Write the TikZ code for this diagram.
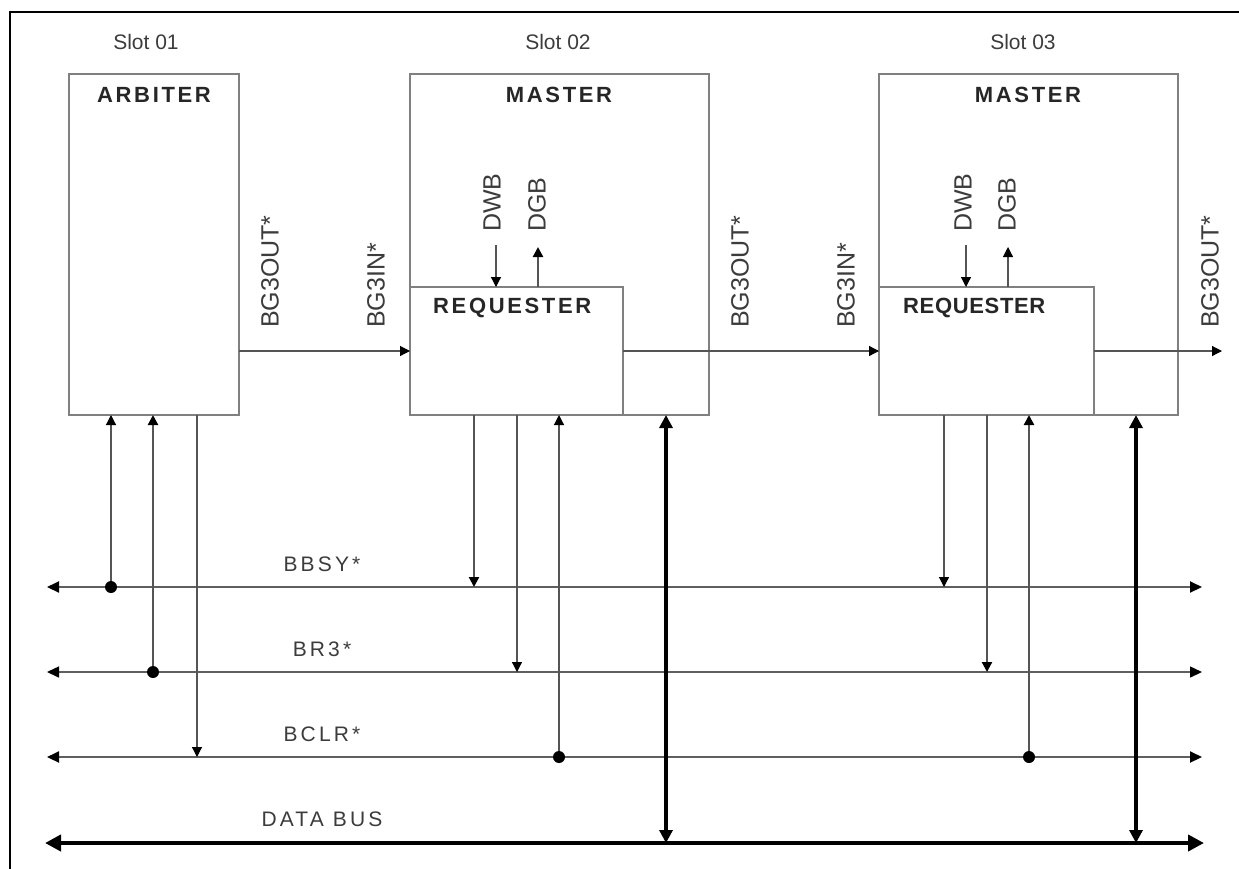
\documentclass[tikz,border=0pt]{standalone}
\usepackage{fontspec}
\setmainfont{Liberation Sans}
\newfontfamily\busfont[LetterSpace=15]{Liberation Sans}
\newfontfamily\titlefont[LetterSpace=12]{Liberation Sans}
\newfontfamily\reqfont[LetterSpace=3]{Liberation Sans}
\usetikzlibrary{arrows.meta}
\definecolor{boxgray}{RGB}{128,128,128}
\definecolor{sigcol}{RGB}{85,85,85}
\definecolor{buscol}{RGB}{95,95,95}
\definecolor{txtgray}{RGB}{60,60,60}
\tikzset{
  tipS/.tip={Triangle[length=10pt,width=10pt,color=black]},
  tipB/.tip={Triangle[length=12pt,width=11pt,color=black]},
  tipM/.tip={Triangle[length=13pt,width=13pt,color=black]},
  tipL/.tip={Triangle[length=16pt,width=16pt,color=black]},
  box/.style={draw=boxgray, line width=2pt, inner sep=0pt, outer sep=0pt, minimum height=341pt},
  reqbox/.style={draw=boxgray, line width=1.3pt, inner sep=0pt, outer sep=0pt, minimum height=128pt},
  sig/.style={draw=sigcol, line width=1.2pt},
  sigm/.style={draw=sigcol, line width=2.2pt},
  bus/.style={draw=buscol, line width=2pt},
  busthin/.style={draw=buscol, line width=1.5pt},
  dbus/.style={draw=black, line width=4.5pt},
  dot/.style={circle, fill=black, inner sep=0pt, minimum size=12pt},
  slotlbl/.style={font=\fontsize{21}{24}\selectfont, text=txtgray, inner sep=0pt},
  titlelbl/.style={font=\titlefont\bfseries\fontsize{22}{26}\selectfont, text=black!85, inner sep=0pt},
  rotlbl/.style={font=\fontsize{25}{28}\selectfont, text=txtgray, rotate=90, anchor=west, inner sep=0pt},
  buslbl/.style={font=\busfont\fontsize{21}{24}\selectfont, text=txtgray, inner sep=0pt},
}
\begin{document}
\begin{tikzpicture}[x=1pt,y=-1pt]
\useasboundingbox (0,0) rectangle (1239,868);
\fill[white] (0,0) rectangle (1239,868);
% outer frame (cut off at right and bottom)
\draw[line width=2.5pt, black] (10,880) -- (10,12) -- (1250,12);

% boxes
\node[box, minimum width=170pt] (arb) at (154,244.5) {};
\node[box, minimum width=299pt] (m2) at (559.5,244.5) {};
\node[box, minimum width=299pt] (m3) at (1028.5,244.5) {};
\node[reqbox, minimum width=213pt] (r2) at (516.5,351) {};
\node[reqbox, minimum width=215pt] (r3) at (986.5,351) {};

% slot labels and titles
\node[slotlbl] (s1) at (146,42) {Slot 01};
\node[slotlbl] (s2) at (558,42) {Slot 02};
\node[slotlbl] (s3) at (1023,42) {Slot 03};
\node[titlelbl] (ta) at (154,95) {ARBITER};
\node[titlelbl] (t2) at (559,95) {MASTER};
\node[titlelbl] (t3) at (1028,95) {MASTER};
\node[titlelbl, anchor=west] (tr2) at (433,308) {REQUESTER};
\node[font=\reqfont\bfseries\fontsize{22}{26}\selectfont, text=black!85, inner sep=0pt, anchor=west] (tr3) at (903,308) {REQUESTER};

% rotated labels
\node[rotlbl] (o1) at (270,328) {BG3OUT*};
\node[rotlbl] (i2) at (376,328) {BG3IN*};
\node[rotlbl] (o2) at (740,328) {BG3OUT*};
\node[rotlbl] (i3) at (846,328) {BG3IN*};
\node[rotlbl] (o3) at (1210,328) {BG3OUT*};
\node[rotlbl] (w2) at (492,232) {DWB};
\node[rotlbl] (g2) at (537,232) {DGB};
\node[rotlbl] (w3) at (963,232) {DWB};
\node[rotlbl] (g3) at (1007,232) {DGB};

% DWB / DGB arrows
\coordinate (dwb2) at (496,245);
\coordinate (dgb2) at (538,247);
\coordinate (dwb3) at (966,245);
\coordinate (dgb3) at (1008,247);
\draw[sig, -{tipS}] (dwb2) -- (dwb2 |- r2.north);
\draw[sigm, -{tipS}] (dgb2 |- r2.north) -- (dgb2);
\draw[sig, -{tipS}] (dwb3) -- (dwb3 |- r3.north);
\draw[sig, -{tipS}] (dgb3 |- r3.north) -- (dgb3);

% bus grant daisy chain
\coordinate (out3) at (1222,351);
\draw[sig, -{tipS}] (arb.east |- r2.west) -- (r2.west);
\draw[sig, -{tipS}] (r2.east) -- (r3.west);
\draw[sig, -{tipS}] (r3.east) -- (out3);

% buses
\coordinate (bbsyL) at (47,587);  \coordinate (bbsyR) at (1202,587);
\coordinate (br3L) at (47,672);   \coordinate (br3R) at (1202,672);
\coordinate (bclrL) at (47,757);  \coordinate (bclrR) at (1202,757);
\coordinate (dataL) at (45,843);  \coordinate (dataR) at (1204,843);
\draw[bus, {tipB}-{tipB}] (bbsyL) -- (bbsyR);
\draw[busthin, {tipB}-{tipB}] (br3L) -- (br3R);
\draw[bus, {tipB}-{tipB}] (bclrL) -- (bclrR);
\draw[dbus, {tipL}-{tipL}] (dataL) -- (dataR);

\node[buslbl] (lbbsy) at (322,564) {BBSY*};
\node[buslbl] (lbr3) at (322,649) {BR3*};
\node[buslbl] (lbclr) at (322,734) {BCLR*};
\node[buslbl] (ldata) at (322,819) {DATA BUS};

% arbiter connections
\coordinate (a1) at (111,587);
\coordinate (a2) at (153,672);
\coordinate (a3) at (197,757);
\draw[sig, -{tipS}] (a1) -- (a1 |- arb.south);
\draw[sigm, -{tipS}] (a2) -- (a2 |- arb.south);
\draw[sig, -{tipS}] (a3 |- arb.south) -- (a3);
\node[dot] (da1) at (a1) {};
\node[dot] (da2) at (a2) {};

% slot 02 connections
\coordinate (b1) at (474,587);
\coordinate (b2) at (517,672);
\coordinate (b3) at (559,757);
\coordinate (b4) at (666,843);
\draw[sigm, -{tipS}] (b1 |- r2.south) -- (b1);
\draw[sig, -{tipS}] (b2 |- r2.south) -- (b2);
\draw[sig, -{tipS}] (b3) -- (b3 |- r2.south);
\draw[dbus, {tipM}-{tipM}] (b4 |- m2.south) -- (b4);
\node[dot] (db3) at (b3) {};

% slot 03 connections
\coordinate (c1) at (944,587);
\coordinate (c2) at (987,672);
\coordinate (c3) at (1029,757);
\coordinate (c4) at (1136,843);
\draw[sig, -{tipS}] (c1 |- r3.south) -- (c1);
\draw[sigm, -{tipS}] (c2 |- r3.south) -- (c2);
\draw[sigm, -{tipS}] (c3) -- (c3 |- r3.south);
\draw[dbus, {tipM}-{tipM}] (c4 |- m3.south) -- (c4);
\node[dot] (dc3) at (c3) {};
\end{tikzpicture}
\end{document}
